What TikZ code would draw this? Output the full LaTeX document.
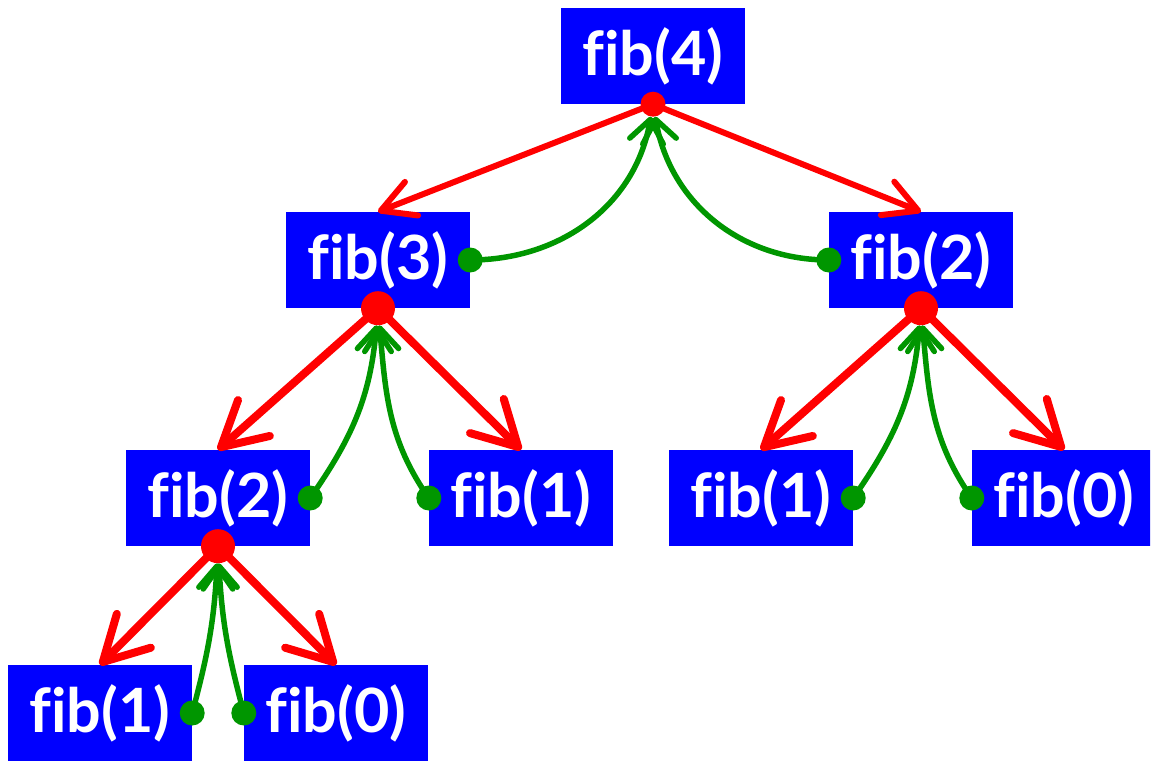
\documentclass[tikz,border=0pt]{standalone}
\usepackage{fontspec}
\setmainfont{Lato}[Ligatures=CommonOff]
\usetikzlibrary{arrows.meta,backgrounds}
\definecolor{fibblue}{RGB}{0,0,255}
\definecolor{fibred}{RGB}{255,0,0}
\definecolor{fibgreen}{RGB}{0,150,0}
\begin{document}
\begin{tikzpicture}
        [x=1pt, y=1pt,
        fibbox/.style={rectangle, fill=fibblue, text=white, minimum width=184pt, minimum height=96pt, inner sep=0pt, font=\fontsize{61}{64}\selectfont\bfseries},
        every child node/.style={fibbox},
        parent anchor=south, child anchor=north,
        redtop/.style={draw=fibred, line width=6pt, -{Straight Barb[length=33pt, width=36pt, round]}},
        redlow/.style={draw=fibred, line width=8pt, -{Straight Barb[length=44pt, width=48pt, round]}},
        level 1/.style={level distance=204pt, sibling distance=543pt, nodes={xshift=-3.5pt}, edge from parent/.style={redtop}},
        level 2/.style={level distance=238pt, sibling distance=303pt, nodes={xshift=-5pt}, edge from parent/.style={redlow}},
        level 3/.style={level distance=215pt, sibling distance=236pt, nodes={xshift=8.5pt}, edge from parent/.style={redlow}},
        rdot/.style={circle, fill=fibred, inner sep=0pt, minimum size=#1},
        gdot/.style={circle, fill=fibgreen, inner sep=0pt, minimum size=25pt},
        greenarrow/.style={draw=fibgreen, line width=5.5pt, -{Straight Barb[length=22pt, width=34pt, round]}},
        ]
        \useasboundingbox (0,0) rectangle (1153,-760);
        \clip (0,0) rectangle (1150,-760);
        \node[fibbox] (f4) at (653,-56) {fib(4)}
          child {node (f3) {fib(3)}
            child {node (f2a) {fib(2)}
              child {node (f1a) {fib(1)}}
              child {node (f0a) {fib(0)}}
            }
            child {node (f1b) {fib(1)}}
          }
          child {node (f2b) {fib(2)}
            child {node (f1c) {fib(1)}}
            child {node (f0b) {fib(0)}}
          };
        % calls go down, results come back up
        \node[rdot=25pt] (d4) at (f4.south) {};
        \node[rdot=34pt] (d3) at (f3.south) {};
        \node[rdot=34pt] (d2a) at (f2a.south) {};
        \node[rdot=34pt] (d2b) at (f2b.south) {};
        \node[gdot] (g3) at (f3.east) {};
        \node[gdot] (g2b) at (f2b.west) {};
        \node[gdot] (g2a) at (f2a.east) {};
        \node[gdot] (g1b) at (f1b.west) {};
        \node[gdot] (g1c) at (f1c.east) {};
        \node[gdot] (g0b) at (f0b.west) {};
        \node[gdot] (g1a) at (f1a.east) {};
        \node[gdot] (g0a) at (f0a.west) {};
        \begin{scope}[on background layer]
        \draw[greenarrow] (g3.center) to[out=0, in=-100] (d4);
        \draw[greenarrow] (g2b.center) to[out=180, in=-80] (d4);
        \draw[greenarrow] (g2a.center) to[out=55, in=-95] (d3);
        \draw[greenarrow] (g1b.center) to[out=125, in=-85] (d3);
        \draw[greenarrow] (g1c.center) to[out=55, in=-95] (d2b);
        \draw[greenarrow] (g0b.center) to[out=125, in=-85] (d2b);
        \draw[greenarrow] (g1a.center) to[out=75, in=-93] (d2a);
        \draw[greenarrow] (g0a.center) to[out=105, in=-87] (d2a);
        \end{scope}
\end{tikzpicture}
\end{document}
